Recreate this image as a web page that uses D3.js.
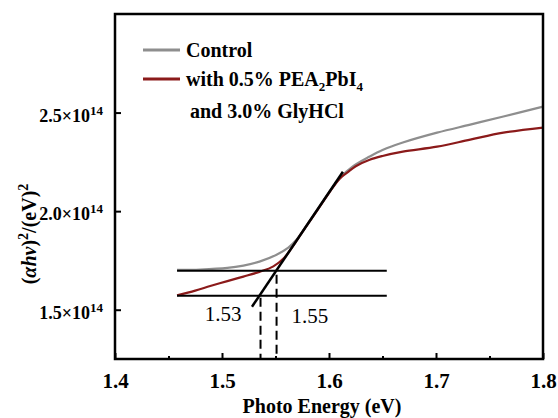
<!DOCTYPE html>
<html>
<head>
<meta charset="utf-8">
<script src="https://cdn.jsdelivr.net/npm/d3@7"></script>
<style>
  body { margin: 0; background: #fff; }
  svg { display: block; }
  text { font-family: "Times New Roman", "Liberation Serif", serif; }
</style>
</head>
<body>
<svg id="chart" width="558" height="418"></svg>
<script>
// ---- data (x in eV, y in units of 1e14 (eV)^2) ----
const controlX = [1.458, 1.480, 1.505, 1.520, 1.535, 1.551, 1.562, 1.570, 1.580, 1.590, 1.600, 1.610, 1.622, 1.638, 1.650, 1.669, 1.701, 1.732, 1.763, 1.800];
const controlY = [1.702, 1.704, 1.712, 1.724, 1.744, 1.779, 1.815, 1.857, 1.935, 2.015, 2.095, 2.168, 2.226, 2.277, 2.310, 2.348, 2.398, 2.439, 2.480, 2.530];
const modX = [1.458, 1.475, 1.489, 1.505, 1.520, 1.535, 1.548, 1.558, 1.566, 1.575, 1.590, 1.600, 1.610, 1.617, 1.625, 1.638, 1.650, 1.669, 1.701, 1.732, 1.763, 1.800];
const modY = [1.573, 1.597, 1.620, 1.645, 1.668, 1.692, 1.720, 1.762, 1.820, 1.893, 2.012, 2.092, 2.165, 2.195, 2.228, 2.261, 2.280, 2.302, 2.327, 2.363, 2.398, 2.424];
const tangentX = [1.528, 1.613];
const tangentY = [1.515, 2.200];
const baseLevels = [1.698, 1.571];
const baseRange = [1.458, 1.654];
const gapValues = [1.536, 1.551];
const gapLabels = ["1.53", "1.55"];
const xTicks = [1.4, 1.5, 1.6, 1.7, 1.8];
const xMinorTicks = [1.45, 1.55, 1.65, 1.75];
const yTicks = [1.5, 2.0, 2.5];
const legendLabels = ["Control", "with 0.5% PEA2PbI4", "and 3.0% GlyHCl"];
const colors = ["#8e8e8e", "#8b1a1a"];

const svg = d3.select("#chart");
const L = 115, R = 543, T = 14, B = 359;
const x = d3.scaleLinear().domain([1.4, 1.8]).range([L, R]);
const y = d3.scaleLinear().domain([1.25, 3.0]).range([B, T]);

const line = d3.line().x(d => x(d[0])).y(d => y(d[1])).curve(d3.curveCatmullRom.alpha(0.5));

// curves
svg.append("path").datum(d3.zip(controlX, controlY)).attr("d", line)
  .attr("fill", "none").attr("stroke", colors[0]).attr("stroke-width", 2.2);
svg.append("path").datum(d3.zip(modX, modY)).attr("d", line)
  .attr("fill", "none").attr("stroke", colors[1]).attr("stroke-width", 2.2);

// baselines
baseLevels.forEach(v => {
  svg.append("line").attr("x1", x(baseRange[0])).attr("x2", x(baseRange[1]))
    .attr("y1", y(v)).attr("y2", y(v)).attr("stroke", "#000").attr("stroke-width", 2);
});

// tangent
svg.append("line").attr("x1", x(tangentX[0])).attr("y1", y(tangentY[0]))
  .attr("x2", x(tangentX[1])).attr("y2", y(tangentY[1]))
  .attr("stroke", "#000").attr("stroke-width", 2.5);

// dashed drops
svg.append("line").attr("x1", x(gapValues[0])).attr("x2", x(gapValues[0]))
  .attr("y1", y(baseLevels[1]) + 2).attr("y2", B)
  .attr("stroke", "#000").attr("stroke-width", 2).attr("stroke-dasharray", "9,5");
svg.append("line").attr("x1", x(gapValues[1])).attr("x2", x(gapValues[1]))
  .attr("y1", y(baseLevels[0]) + 4).attr("y2", B)
  .attr("stroke", "#000").attr("stroke-width", 2).attr("stroke-dasharray", "9,5");

svg.append("text").attr("x", x(gapValues[0]) - 19).attr("y", 321)
  .attr("text-anchor", "end").attr("font-size", 21).text(gapLabels[0]);
svg.append("text").attr("x", x(gapValues[1]) + 15).attr("y", 323)
  .attr("text-anchor", "start").attr("font-size", 21).text(gapLabels[1]);

// frame
svg.append("rect").attr("x", L).attr("y", T).attr("width", R - L).attr("height", B - T)
  .attr("fill", "none").attr("stroke", "#000").attr("stroke-width", 2.5);

// x axis ticks (inward)
const xAxis = d3.axisBottom(x).tickValues(xTicks).tickSize(-6).tickFormat(d3.format(".1f")).tickPadding(14);
const gx = svg.append("g").attr("transform", `translate(0,${B})`).call(xAxis);
gx.select(".domain").remove();
gx.selectAll(".tick line").attr("stroke-width", 2);
gx.selectAll(".tick text").attr("font-size", 21).attr("font-weight", "bold").attr("fill", "#000")
  .style("font-family", "'Times New Roman','Liberation Serif',serif");
const xMinor = d3.axisBottom(x).tickValues(xMinorTicks).tickSize(-3).tickFormat("");
const gxm = svg.append("g").attr("transform", `translate(0,${B})`).call(xMinor);
gxm.select(".domain").remove();
gxm.selectAll(".tick line").attr("stroke-width", 2);

// y axis ticks (inward)
const yAxis = d3.axisLeft(y).tickValues(yTicks).tickSize(-6).tickFormat("");
const gy = svg.append("g").attr("transform", `translate(${L},0)`).call(yAxis);
gy.select(".domain").remove();
gy.selectAll(".tick line").attr("stroke-width", 2);
yTicks.forEach(v => {
  const t = svg.append("text").attr("x", 103).attr("y", y(v) + 9)
    .attr("text-anchor", "end").attr("font-weight", "bold").attr("font-size", 18);
  t.append("tspan").text(d3.format(".1f")(v) + "×10");
  t.append("tspan").attr("font-size", 13).attr("dy", -7).text("14");
});

// axis titles
svg.append("text").attr("x", 322).attr("y", 413).attr("text-anchor", "middle")
  .attr("font-size", 20).attr("font-weight", "bold").text("Photo Energy (eV)");
const yt = svg.append("text").attr("transform", "translate(36,234) rotate(-90)")
  .attr("text-anchor", "middle").attr("font-size", 20).attr("font-weight", "bold");
yt.append("tspan").text("(");
yt.append("tspan").attr("font-style", "italic").text("αhν");
yt.append("tspan").text(")");
yt.append("tspan").attr("font-size", 14).attr("dy", -8).text("2");
yt.append("tspan").attr("dy", 8).text("/(eV)");
yt.append("tspan").attr("font-size", 14).attr("dy", -8).text("2");

// legend
svg.append("line").attr("x1", 143).attr("x2", 180).attr("y1", 50).attr("y2", 50)
  .attr("stroke", colors[0]).attr("stroke-width", 3);
svg.append("text").attr("x", 186).attr("y", 57).attr("font-size", 20).attr("font-weight", "bold").text(legendLabels[0]);
svg.append("line").attr("x1", 143).attr("x2", 180).attr("y1", 79).attr("y2", 79)
  .attr("stroke", colors[1]).attr("stroke-width", 3);
const l2 = svg.append("text").attr("x", 186).attr("y", 86).attr("font-size", 20).attr("font-weight", "bold");
l2.append("tspan").text("with 0.5% PEA");
l2.append("tspan").attr("font-size", 13).attr("dy", 5).text("2");
l2.append("tspan").attr("dy", -5).text("PbI");
l2.append("tspan").attr("font-size", 13).attr("dy", 5).text("4");
svg.append("text").attr("x", 190).attr("y", 118).attr("font-size", 20).attr("font-weight", "bold").text(legendLabels[2]);
</script>
</body>
</html>
